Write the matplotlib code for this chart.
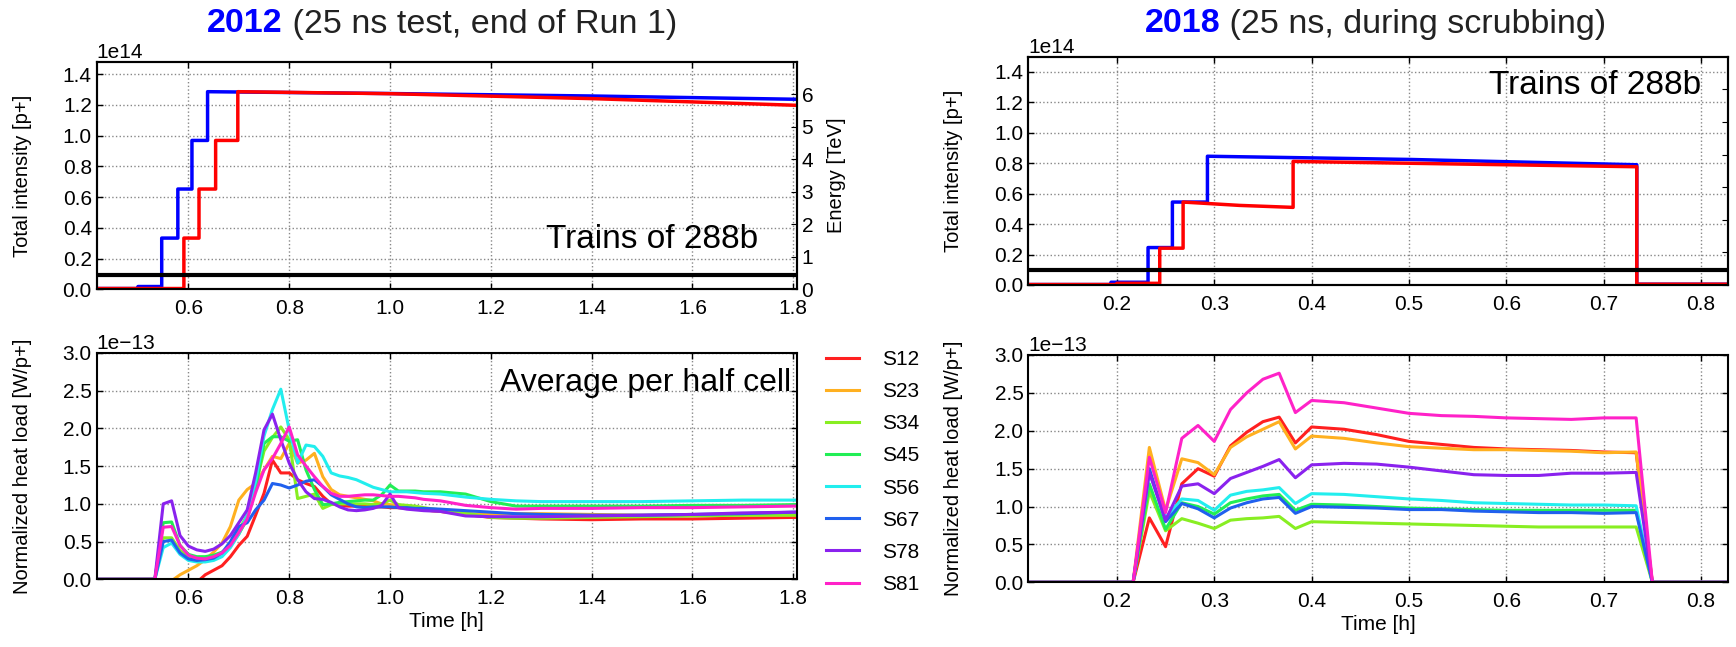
import numpy as np
import matplotlib.pyplot as plt

plt.rcParams['font.family'] = ['Liberation Sans', 'DejaVu Sans']
plt.rcParams['axes.linewidth'] = 1.5

# --- 2012 : intensity (1e14 p+) vs time [h], step curves with explicit jumps
b1_2012_t = [0.40, 0.50, 0.50, 0.547, 0.547, 0.579, 0.579, 0.607, 0.607, 0.638, 0.638, 1.0, 1.4, 1.82]
b1_2012_v = [0.005, 0.005, 0.018, 0.018, 0.333, 0.333, 0.652, 0.652, 0.968, 0.968, 1.285, 1.273, 1.257, 1.235]
b2_2012_t = [0.40, 0.591, 0.591, 0.621, 0.621, 0.654, 0.654, 0.698, 0.698, 1.0, 1.4, 1.82]
b2_2012_v = [0.005, 0.005, 0.333, 0.333, 0.652, 0.652, 0.968, 0.968, 1.285, 1.272, 1.24, 1.195]
energy_2012_t = [0.40, 1.82]
energy_2012 = [0.45, 0.45]   # TeV

# --- 2018 : intensity
b1_2018_t = [0.10, 0.194, 0.194, 0.232, 0.232, 0.257, 0.257, 0.293, 0.293, 0.5, 0.734, 0.734, 0.84]
b1_2018_v = [0.003, 0.003, 0.018, 0.018, 0.246, 0.246, 0.545, 0.545, 0.846, 0.825, 0.79, 0.005, 0.005]
b2_2018_t = [0.10, 0.2, 0.2, 0.244, 0.244, 0.268, 0.268, 0.326, 0.381, 0.381, 0.55, 0.734, 0.734, 0.84]
b2_2018_v = [0.003, 0.003, 0.011, 0.011, 0.242, 0.242, 0.545, 0.523, 0.51, 0.812, 0.795, 0.777, 0.005, 0.005]
energy_2018_t = [0.10, 0.84]
energy_2018 = [0.45, 0.45]

# --- heat loads (1e-13 W/p+), time in minutes
sectors = ['S12', 'S23', 'S34', 'S45', 'S56', 'S67', 'S78', 'S81']
colors = ['#ff2020', '#ffb020', '#88ee22', '#22ee55', '#22eeee', '#2060ee', '#8a22ee', '#ff22c8']

t2012_min = [25, 32, 33, 34, 35, 36, 37, 38, 39, 40, 41, 42, 43, 44, 45, 46, 47, 48, 49, 50,
             51, 52, 53, 54, 55, 56, 57, 58, 59, 60, 61, 62, 63, 64, 66, 69, 72, 75, 78, 84,
             90, 96, 102, 108, 109]
hl2012 = {
    'S12': [0, 0, -0.5, -0.4, -0.3, -0.18, -0.04, 0.06, 0.12, 0.18, 0.3, 0.45, 0.57, 0.85, 1.14,
            1.58, 1.41, 1.41, 1.32, 1.27, 1.23, 1.1, 1.0, 0.98, 0.97, 0.97, 0.97, 0.96, 0.96, 0.95,
            0.95, 0.94, 0.93, 0.92, 0.9, 0.86, 0.82, 0.81, 0.8, 0.79, 0.8, 0.8, 0.81, 0.82, 0.82],
    'S23': [0, 0, -0.3, -0.02, 0.06, 0.12, 0.18, 0.26, 0.36, 0.48, 0.7, 1.05, 1.19, 1.27, 1.45,
            1.63, 1.6, 1.8, 1.54, 1.58, 1.67, 1.36, 1.19, 1.12, 1.1, 1.08, 1.06, 1.04, 1.0, 0.99,
            0.98, 0.96, 0.94, 0.92, 0.9, 0.87, 0.86, 0.87, 0.87, 0.86, 0.85, 0.85, 0.85, 0.85, 0.85],
    'S34': [0, 0, 0.55, 0.55, 0.38, 0.3, 0.27, 0.28, 0.3, 0.35, 0.45, 0.65, 0.85, 1.25, 1.7,
            1.88, 2.02, 1.85, 1.07, 1.1, 1.13, 0.94, 0.99, 1.0, 1.0, 1.0, 1.0, 0.99, 1.0, 1.05,
            0.99, 0.98, 0.97, 0.95, 0.92, 0.88, 0.82, 0.81, 0.81, 0.82, 0.83, 0.84, 0.85, 0.85, 0.85],
    'S45': [0, 0, 0.75, 0.76, 0.45, 0.33, 0.3, 0.3, 0.32, 0.36, 0.45, 0.6, 0.8, 1.2, 1.8,
            1.89, 1.89, 1.83, 1.85, 1.45, 1.19, 0.99, 1.0, 1.02, 1.03, 1.04, 1.05, 1.05, 1.12, 1.25,
            1.17, 1.17, 1.17, 1.16, 1.16, 1.13, 1.03, 0.97, 0.97, 0.97, 0.97, 0.98, 0.98, 0.99, 0.99],
    'S56': [0, 0, 0.42, 0.48, 0.33, 0.25, 0.23, 0.23, 0.25, 0.3, 0.42, 0.6, 0.85, 1.3, 1.9,
            2.25, 2.52, 1.98, 1.54, 1.78, 1.76, 1.63, 1.41, 1.37, 1.35, 1.32, 1.27, 1.22, 1.19, 1.16,
            1.16, 1.16, 1.15, 1.14, 1.13, 1.09, 1.06, 1.04, 1.03, 1.03, 1.03, 1.04, 1.05, 1.05, 1.05],
    'S67': [0, 0, 0.5, 0.52, 0.35, 0.27, 0.25, 0.26, 0.28, 0.35, 0.5, 0.7, 0.75, 0.92, 1.05,
            1.27, 1.25, 1.21, 1.25, 1.3, 1.32, 1.23, 1.12, 1.06, 1.0, 0.96, 0.95, 0.96, 0.96, 0.96,
            0.95, 0.95, 0.94, 0.94, 0.93, 0.91, 0.89, 0.87, 0.86, 0.85, 0.85, 0.86, 0.87, 0.89, 0.89],
    'S78': [0, 0, 1.0, 1.04, 0.58, 0.44, 0.39, 0.37, 0.4, 0.47, 0.58, 0.75, 0.92, 1.41, 1.98,
            2.19, 1.85, 1.54, 1.32, 1.16, 1.07, 1.06, 1.02, 0.96, 0.92, 0.91, 0.92, 0.94, 0.98, 1.13,
            0.95, 0.93, 0.92, 0.91, 0.9, 0.84, 0.83, 0.83, 0.83, 0.84, 0.85, 0.86, 0.88, 0.89, 0.89],
    'S81': [0, 0, 0.69, 0.7, 0.45, 0.32, 0.28, 0.27, 0.3, 0.35, 0.45, 0.62, 0.8, 1.15, 1.45,
            1.6, 1.8, 2.02, 1.65, 1.5, 1.36, 1.23, 1.14, 1.1, 1.1, 1.11, 1.12, 1.12, 1.11, 1.1,
            1.1, 1.09, 1.08, 1.06, 1.04, 0.98, 0.95, 0.93, 0.94, 0.94, 0.95, 0.95, 0.96, 0.97, 0.97],
}

t2018_min = [6, 13, 14, 15, 16, 17, 18, 19, 20, 21, 22, 23, 24, 26, 28, 30, 32, 34, 36, 38,
             40, 42, 44, 45, 50]
hl2018 = {
    'S12': [0, 0, 0.85, 0.47, 1.3, 1.5, 1.4, 1.8, 1.98, 2.12, 2.18, 1.84, 2.05, 2.02, 1.95, 1.86,
            1.82, 1.78, 1.76, 1.75, 1.74, 1.72, 1.71, 0, 0],
    'S23': [0, 0, 1.78, 0.95, 1.63, 1.58, 1.42, 1.78, 1.92, 2.02, 2.12, 1.76, 1.93, 1.9, 1.84, 1.79,
            1.77, 1.75, 1.75, 1.74, 1.73, 1.71, 1.72, 0, 0],
    'S34': [0, 0, 1.2, 0.68, 0.84, 0.78, 0.71, 0.82, 0.84, 0.85, 0.87, 0.71, 0.8, 0.79, 0.78, 0.77,
            0.76, 0.75, 0.74, 0.73, 0.73, 0.73, 0.73, 0, 0],
    'S45': [0, 0, 1.3, 0.7, 1.05, 1.0, 0.9, 1.05, 1.1, 1.14, 1.16, 0.95, 1.03, 1.02, 1.0, 0.98,
            0.97, 0.96, 0.95, 0.95, 0.95, 0.95, 0.95, 0, 0],
    'S56': [0, 0, 1.45, 0.85, 1.1, 1.08, 0.95, 1.15, 1.2, 1.22, 1.25, 1.04, 1.17, 1.16, 1.13, 1.1,
            1.08, 1.05, 1.04, 1.03, 1.02, 1.02, 1.01, 0, 0],
    'S67': [0, 0, 1.5, 0.8, 1.04, 0.97, 0.85, 0.98, 1.05, 1.1, 1.12, 0.91, 1.0, 0.99, 0.98, 0.96,
            0.96, 0.94, 0.93, 0.92, 0.92, 0.91, 0.92, 0, 0],
    'S78': [0, 0, 1.45, 0.82, 1.27, 1.3, 1.17, 1.37, 1.45, 1.53, 1.62, 1.38, 1.55, 1.57, 1.56, 1.52,
            1.47, 1.42, 1.41, 1.41, 1.44, 1.44, 1.45, 0, 0],
    'S81': [0, 0, 1.65, 0.92, 1.9, 2.07, 1.86, 2.28, 2.5, 2.68, 2.76, 2.24, 2.4, 2.37, 2.3, 2.23,
            2.2, 2.19, 2.17, 2.16, 2.15, 2.17, 2.17, 0, 0],
}

W, H = 1736, 647
fig = plt.figure(figsize=(W / 100, H / 100), dpi=100)


def box(x0, y0, x1, y1):
    # pixel box -> figure fraction rect
    return [x0 / W, 1 - y1 / H, (x1 - x0) / W, (y1 - y0) / H]


def style(ax):
    ax.grid(True, linestyle=':', color='#888888', linewidth=1.0)
    ax.tick_params(direction='in', top=True, right=True, labelsize=15, length=4, width=1)
    ax.tick_params(axis='x', pad=7)
    ax.xaxis.get_offset_text().set_fontsize(15)
    ax.yaxis.get_offset_text().set_fontsize(15)


ax_tl = fig.add_axes(box(96.7, 61.7, 796.7, 289.3))
ax_bl = fig.add_axes(box(96.7, 353, 796.7, 579.3))
ax_tr = fig.add_axes(box(1028.3, 56.7, 1728.3, 285))
ax_br = fig.add_axes(box(1028.3, 355, 1728.3, 582.3))

# intensity panels
for ax, (bt1, bv1, bt2, bv2, et, ev, xl, ytop) in [
        (ax_tl, (b1_2012_t, b1_2012_v, b2_2012_t, b2_2012_v, energy_2012_t, energy_2012, (0.418, 1.807), 1.48)),
        (ax_tr, (b1_2018_t, b1_2018_v, b2_2018_t, b2_2018_v, energy_2018_t, energy_2018, (0.109, 0.828), 1.5))]:
    ax.plot(bt1, np.array(bv1) * 1e14, color='#0000ff', lw=2.5, zorder=3)
    ax.plot(bt2, np.array(bv2) * 1e14, color='#ff0000', lw=2.5, zorder=3)
    ax.set_xlim(*xl)
    ax.set_ylim(0, ytop * 1e14)
    ax.set_yticks(np.arange(0, 1.41, 0.2) * 1e14)
    ax.set_ylabel('Total intensity [p+]', fontsize=14.5)
    ax.yaxis.set_label_coords(-0.093, 0.5)
    style(ax)
    tw = ax.twinx()
    tw.plot(et, ev, color='black', lw=3)
    tw.set_ylim(0, 7)
    tw.set_xlim(*xl)
    tw.set_yticks(range(0, 7))
    tw.tick_params(direction='in', labelsize=15, length=4)
    if ax is ax_tl:
        tw.set_ylabel('Energy [TeV]', fontsize=14.5, labelpad=10)
    else:
        tw.tick_params(labelright=False)

ax_tl.text(0.945, 0.22, 'Trains of 288b', transform=ax_tl.transAxes, ha='right', va='center', fontsize=24)
ax_tr.text(0.961, 0.876, 'Trains of 288b', transform=ax_tr.transAxes, ha='right', va='center', fontsize=24)

# heat load panels
handles = []
for s, c in zip(sectors, colors):
    ln, = ax_bl.plot(np.array(t2012_min) / 60, np.array(hl2012[s]) * 1e-13, color=c, lw=2.2, label=s)
    ax_br.plot(np.array(t2018_min) / 60, np.array(hl2018[s]) * 1e-13, color=c, lw=2.2)
    handles.append(ln)

for ax, xl in [(ax_bl, (0.418, 1.807)), (ax_br, (0.109, 0.828))]:
    ax.set_xlim(*xl)
    ax.set_ylim(0, 3.0e-13)
    ax.set_yticks(np.arange(0, 3.01, 0.5) * 1e-13)
    ax.set_xlabel('Time [h]', fontsize=15, labelpad=3)
    ax.set_ylabel('Normalized heat load [W/p+]', fontsize=14.5)
    ax.yaxis.set_label_coords(-0.093, 0.5)
    style(ax)

ax_bl.set_xticks([0.6, 0.8, 1.0, 1.2, 1.4, 1.6, 1.8])
ax_tl.set_xticks([0.6, 0.8, 1.0, 1.2, 1.4, 1.6, 1.8])
ax_br.set_xticks([0.2, 0.3, 0.4, 0.5, 0.6, 0.7, 0.8])
ax_tr.set_xticks([0.2, 0.3, 0.4, 0.5, 0.6, 0.7, 0.8])

ax_bl.text(0.992, 0.867, 'Average per half cell', transform=ax_bl.transAxes, ha='right', va='center', fontsize=23)

ax_bl.legend(handles=handles, loc='upper left', bbox_to_anchor=(826 / W, 1 - 350 / H),
             bbox_transform=fig.transFigure, frameon=False, borderpad=0, borderaxespad=0,
             handlelength=1.6, handletextpad=1.1, labelspacing=0.63, fontsize=15)

# titles
fig.text(283 / W, 1 - 24 / H, '2012', color='#0000ff', fontweight='bold', fontsize=24.5, ha='right', va='center')
fig.text(283 / W, 1 - 24 / H, ' (25 ns test, end of Run 1)', color='#222222', fontsize=24.5, ha='left', va='center')
fig.text(1220.5 / W, 1 - 24 / H, '2018', color='#0000ff', fontweight='bold', fontsize=24.5, ha='right', va='center')
fig.text(1220.5 / W, 1 - 24 / H, ' (25 ns, during scrubbing)', color='#222222', fontsize=24.5, ha='left', va='center')

fig.savefig('out.png', dpi=100)
